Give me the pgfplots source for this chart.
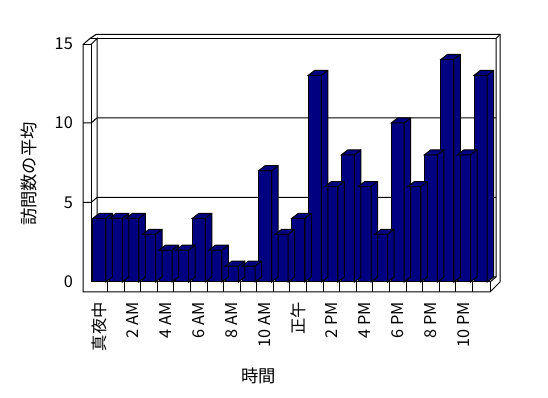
\documentclass[border=0pt]{standalone}
\usepackage{pgfplots}
\usepackage{pgfplotstable}
\pgfplotsset{compat=1.18}
\usepackage{fontspec}
\setmainfont{Noto Sans CJK JP}
\definecolor{barblue}{HTML}{000080}
\pgfplotstableread{
h v
0 4
1 4
2 4
3 3
4 2
5 2
6 4
7 2
8 1
9 1
10 7
11 3
12 4
13 13
14 6
15 8
16 6
17 3
18 10
19 6
20 8
21 14
22 8
23 13
}\visits
\begin{document}
\begin{tikzpicture}
\begin{scope}[x=1pt,y=-1pt,shift={(0pt,398pt)},line width=1pt,line join=miter]
\fill[white,use as bounding box] (0,0) rectangle (548,398);
\draw (83,292) -- (83,44.5) -- (90,38.5) -- (96,34.5) -- (500,34.5) -- (500,282) -- (490,292) -- cycle;
\draw (83,44.5) -- (91,44.5) -- (91,282) -- (490,282) -- (490,292);
\draw (91,44.5) -- (97,38.5) -- (97,277) -- (496,277) -- (496,38.5) -- (500,34.5);
\draw (90,38.5) -- (496,38.5);
\draw (490,282) -- (496,277);
\foreach \v in {5,10} {
  \pgfmathsetmacro\yf{282-15.9*\v}
  \draw (83,\yf) -- (91,\yf) -- (97,{\yf-5}) -- (496,{\yf-5});
}
\foreach \k in {1,...,23} {
  \pgfmathsetmacro\xk{91+16.58*\k}
  \draw (\xk,282) -- (\xk,292);
}
\end{scope}
\begin{axis}[
  at={(91pt,116pt)}, anchor=south west,
  x=16.58pt, y=15.9pt,
  xmin=-0.5, xmax=23.5, ymin=0, ymax=15,
  clip=false,
  axis line style={draw=none},
  tick style={draw=none},
  xtick={0,2,...,22},
  xticklabels={真夜中,2 AM,4 AM,6 AM,8 AM,10 AM,正午,2 PM,4 PM,6 PM,8 PM,10 PM},
  ytick={0,5,10,15},
  /pgf/number format/assume math mode=true,
  tick label style={font=\fontsize{16.3}{16.3}\selectfont, inner sep=0pt},
  xticklabel style={yshift=-20pt, rotate=90, anchor=east},
  yticklabel style={anchor=east, xshift=-18pt},
  label style={font=\fontsize{17.3}{17.3}\selectfont, inner sep=0pt},
  xlabel={時間},
  ylabel={訪問数の平均},
  xlabel style={at={(axis description cs:0.422,-0.394)}, anchor=center},
  ylabel style={at={(axis description cs:-0.1558,0.4528)}, anchor=center},
]
\addplot[scatter, only marks, mark=*, mark size=0pt,
  mark options={draw=none,fill=none},
  visualization depends on={\thisrow{v} \as \rawy},
  scatter/@pre marker code/.code={%
    \pgfmathsetlengthmacro\hf{-\rawy*15.9pt}%
    \pgfmathsetlengthmacro\hb{5pt-\rawy*15.9pt}%
    \filldraw[fill=barblue,draw=black,line width=1pt,line join=miter]
      (-6.5pt,0pt) -- (0pt,5pt) -- (13pt,5pt) -- (13pt,\hb) -- (6.5pt,\hf) -- (6.5pt,0pt) -- cycle;
    \draw[black,line width=1pt] (6.5pt,0pt) -- (13pt,5pt);
  },
  scatter/@post marker code/.code={}
] table[x=h,y=v]{\visits};
\addplot[ybar, bar width=13pt, fill=barblue, draw=black, line width=1pt] table[x=h,y=v]{\visits};
\end{axis}
\end{tikzpicture}
\end{document}
